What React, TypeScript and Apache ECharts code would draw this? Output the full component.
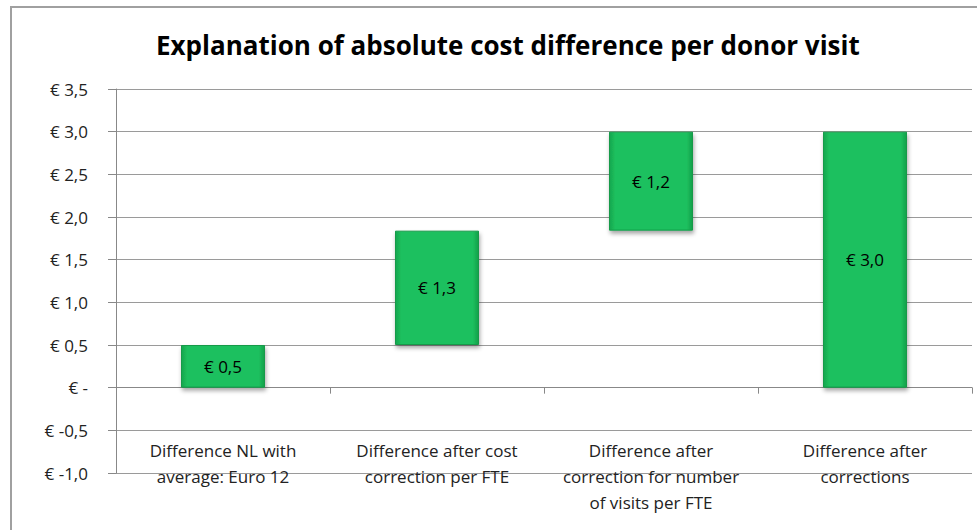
import React, { useEffect, useRef } from "react";
import * as echarts from "echarts";

const title = "Explanation of absolute cost difference per donor visit";
const categories = [
  "Difference NL with\naverage: Euro 12",
  "Difference after cost\ncorrection per FTE",
  "Difference after\ncorrection for number\nof visits per FTE",
  "Difference after\ncorrections",
];
const barBottoms = [0, 0.5, 1.84, 0];
const barValues = [0.5, 1.34, 1.16, 3.0];
const yMin = -1;
const yMax = 3.5;
const yInterval = 0.5;

const FONT = "Open Sans";

function euro(v: number): string {
  if (Math.abs(v) < 1e-9) return "€ -";
  return "€ " + v.toFixed(1).replace(".", ",");
}

export default function App() {
  const ref = useRef<HTMLDivElement>(null);
  useEffect(() => {
    if (!ref.current) return;
    const chart = echarts.init(ref.current, null, { renderer: "svg" });
    chart.setOption({
      animation: false,
      backgroundColor: "#ffffff",
      title: {
        text: title,
        left: 151,
        top: 27,
        textStyle: { fontFamily: FONT, fontSize: 26, fontWeight: "bold", color: "#000" },
      },
      graphic: [
        {
          type: "rect",
          shape: { x: 11, y: 7, width: 1000, height: 600 },
          style: { fill: "none", stroke: "#a0a0a0", lineWidth: 2 },
          silent: true,
        },
      ],
      grid: {
        left: 116,
        right: 5,
        top: 89,
        bottom: 57,
        containLabel: false,
        outerBoundsMode: "none",
      },
      xAxis: {
        type: "category",
        data: categories,
        axisLine: { show: true, onZero: true, lineStyle: { color: "#888", width: 1 } },
        axisTick: { show: true, length: 6, lineStyle: { color: "#888" } },
        axisLabel: {
          margin: -36,
          interval: 0,
          fontFamily: FONT,
          fontSize: 17,
          lineHeight: 26,
          color: "#222",
          align: "center",
          verticalAlign: "top",
        },
        splitLine: { show: false },
      },
      yAxis: {
        type: "value",
        min: yMin,
        max: yMax,
        interval: yInterval,
        axisLine: { show: true, lineStyle: { color: "#888", width: 1 } },
        axisTick: { show: true, length: 8, lineStyle: { color: "#888" } },
        axisLabel: {
          margin: 28,
          fontFamily: FONT,
          fontSize: 17,
          color: "#222",
          formatter: (v: number) => euro(v),
        },
        splitLine: { show: true, lineStyle: { color: "#9a9a9a", width: 1 } },
      },
      series: [
        {
          type: "bar",
          stack: "w",
          data: barBottoms,
          barWidth: 84,
          itemStyle: { color: "transparent" },
          silent: true,
        },
        {
          type: "bar",
          stack: "w",
          data: barValues,
          barWidth: 84,
          itemStyle: {
            color: new echarts.graphic.LinearGradient(0, 0, 1, 0, [
              { offset: 0, color: "#14a64e" },
              { offset: 0.07, color: "#1ec05e" },
              { offset: 0.93, color: "#1ec05e" },
              { offset: 1, color: "#12a04a" },
            ]),
            borderColor: "#129a48",
            borderWidth: 1,
            shadowColor: "rgba(0,0,0,0.35)",
            shadowBlur: 4,
            shadowOffsetX: 1,
            shadowOffsetY: 3,
          },
          label: {
            show: true,
            position: "inside",
            fontFamily: FONT,
            fontSize: 17,
            color: "#000",
            formatter: (p: any) => euro(p.value),
          },
        },
      ],
    });
    return () => chart.dispose();
  }, []);
  return (
    <div
      ref={ref}
      style={{ position: "absolute", left: 0, top: 0, width: 977, height: 530 }}
    />
  );
}
